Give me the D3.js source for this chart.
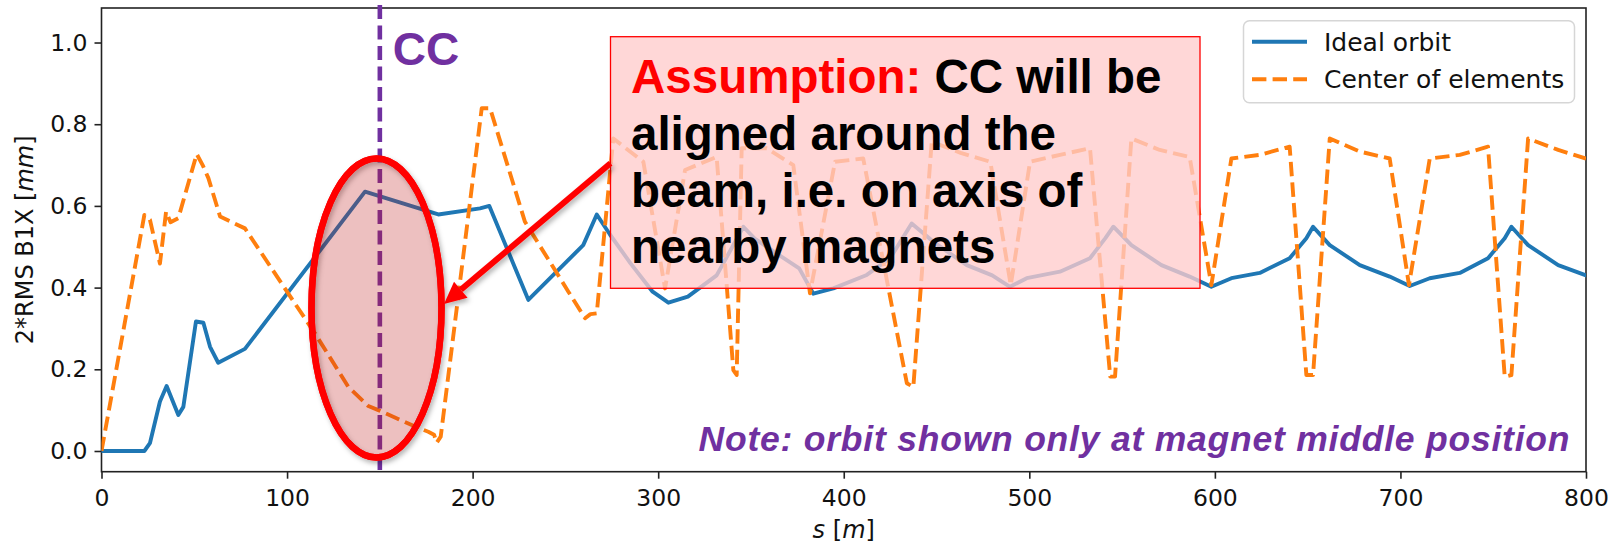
<!DOCTYPE html>
<html>
<head>
<meta charset="utf-8">
<script src="https://cdn.jsdelivr.net/npm/d3@7"></script>
<style>
  html, body { margin: 0; padding: 0; background: #fff; }
  svg { display: block; }
</style>
</head>
<body>
<svg id="chart" width="1623" height="544"></svg>
<script>
// Beam position along s: ideal orbit vs. centre of the elements
const orbitS = [0, 23.1, 26.1, 31.5, 35.1, 41.4, 44.1, 50.9, 54.9, 58.5, 62.9, 77.3, 142, 181.5, 204, 209,
  230, 259.6, 266.9, 274, 285, 297, 305.5, 316, 331.5, 340, 345.9, 352, 365, 376, 383.6, 394.4, 412.4, 425,
  436.6, 448.3, 466.3, 480, 489.6, 498.6, 516.5, 532.7, 541, 545.3, 555, 571.2, 586.4, 598.1, 608.9, 624.2,
  640.3, 649.3, 652.9, 661.9, 678.1, 694.2, 705, 715.8, 732, 747.2, 756.2, 759.8, 768.8, 785, 800];
const orbitV = [0, 0, 0.019, 0.121, 0.159, 0.088, 0.108, 0.317, 0.314, 0.255, 0.216, 0.250, 0.635, 0.579, 0.594, 0.600,
  0.370, 0.504, 0.579, 0.530, 0.460, 0.390, 0.363, 0.378, 0.430, 0.500, 0.549, 0.520, 0.480, 0.447, 0.385, 0.398, 0.431, 0.472,
  0.557, 0.512, 0.455, 0.430, 0.402, 0.423, 0.439, 0.472, 0.521, 0.549, 0.504, 0.455, 0.427, 0.402, 0.423, 0.436,
  0.472, 0.521, 0.549, 0.504, 0.455, 0.427, 0.404, 0.423, 0.436, 0.472, 0.521, 0.549, 0.504, 0.455, 0.430];

const centerS = [0, 23.1, 26.1, 31.5, 34.8, 37.2, 41.4, 51.3, 54.5, 57.6, 63.9, 77.3, 100, 115, 133, 143.8, 149.2,
  169, 176.1, 179.2, 180.6, 182.8, 204.9, 209.4, 228.2, 251.6, 260.6, 263.5, 266.9, 275.8, 292, 303.7, 314.5, 331.5,
  340.5, 342.3, 345, 358.5, 372.8, 381.8, 395.3, 410.5, 434, 437.5, 447.4, 463, 479, 490, 500.4, 516.5, 532.7,
  543.6, 546.2, 555, 570.3, 586.4, 598.1, 608.9, 624.2, 640.3, 649.3, 652.9, 661.9, 678.1, 694.2, 704.6, 715.8,
  732, 747.2, 756.2, 759.8, 768.8, 785, 800];
const centerV = [0.0, 0.578, 0.566, 0.459, 0.586, 0.560, 0.570, 0.727, 0.700, 0.668, 0.574, 0.545, 0.390, 0.288, 0.157, 0.110, 0.100,
  0.060, 0.047, 0.040, 0.020, 0.035, 0.839, 0.839, 0.561, 0.390, 0.325, 0.335, 0.337, 0.765, 0.708, 0.398, 0.688, 0.720,
  0.198, 0.186, 0.741, 0.741, 0.700, 0.386, 0.708, 0.716, 0.166, 0.157, 0.757, 0.730, 0.708, 0.406, 0.708, 0.725, 0.741,
  0.182, 0.182, 0.765, 0.737, 0.720, 0.406, 0.716, 0.725, 0.745, 0.186, 0.186, 0.765, 0.733, 0.716, 0.406, 0.716,
  0.725, 0.745, 0.182, 0.186, 0.765, 0.737, 0.716];

const xTicks = [0, 100, 200, 300, 400, 500, 600, 700, 800];
const yTicks = [0.0, 0.2, 0.4, 0.6, 0.8, 1.0];
const seriesNames = ["Ideal orbit", "Center of elements"];
const ccPosition = 150;

const svg = d3.select("#chart");
const W = 1623, H = 544;
const plot = { left: 101.5, right: 1586, top: 8, bottom: 471.7 };

const x = d3.scaleLinear().domain([0, 800]).range([plot.left, plot.right]);
const y = d3.scaleLinear().domain([-0.0507, 1.0845]).range([plot.bottom, plot.top]);

svg.append("rect").attr("width", W).attr("height", H).attr("fill", "#fff");

const defs = svg.append("defs");
defs.append("clipPath").attr("id", "plotClip")
  .append("rect").attr("x", plot.left).attr("y", plot.top)
  .attr("width", plot.right - plot.left).attr("height", plot.bottom - plot.top);
const shadow = defs.append("filter").attr("id", "shade")
  .attr("x", "-20%").attr("y", "-20%").attr("width", "140%").attr("height", "140%");
shadow.append("feDropShadow").attr("dx", 2).attr("dy", 3).attr("stdDeviation", 2.5)
  .attr("flood-color", "#000").attr("flood-opacity", 0.3);

const mplFont = "'DejaVu Sans', sans-serif";
const boldFont = "'Liberation Sans', Arial, sans-serif";
const purple = "#7030A0";

// Axes
const xAxis = d3.axisBottom(x).tickValues(xTicks).tickFormat(d3.format("d")).tickSizeOuter(0).tickSize(7).tickPadding(6);
const yAxis = d3.axisLeft(y).tickValues(yTicks).tickFormat(d3.format(".1f")).tickSizeOuter(0).tickSize(7).tickPadding(7);

const gx = svg.append("g").attr("transform", `translate(0,${plot.bottom})`).call(xAxis);
const gy = svg.append("g").attr("transform", `translate(${plot.left},0)`).call(yAxis);
[gx, gy].forEach(g => {
  g.select(".domain").remove();
  g.selectAll(".tick line").attr("stroke", "#222").attr("stroke-width", 1.6);
  g.selectAll(".tick text").attr("fill", "#111").style("font-family", mplFont).style("font-size", "23.5px");
});
gx.selectAll(".tick text").attr("dy", "0.9em");

// Frame
svg.append("rect").attr("x", plot.left).attr("y", plot.top)
  .attr("width", plot.right - plot.left).attr("height", plot.bottom - plot.top)
  .attr("fill", "none").attr("stroke", "#222").attr("stroke-width", 1.6);

// Axis titles
const xt = svg.append("text").attr("x", (plot.left + plot.right) / 2).attr("y", 538)
  .attr("text-anchor", "middle").style("font-family", mplFont).style("font-size", "24px").attr("fill", "#111");
xt.append("tspan").attr("font-style", "italic").text("s");
xt.append("tspan").text(" [");
xt.append("tspan").attr("font-style", "italic").text("m");
xt.append("tspan").text("]");

const yt = svg.append("text")
  .attr("transform", `translate(33,${(plot.top + plot.bottom) / 2}) rotate(-90)`)
  .attr("text-anchor", "middle").style("font-family", mplFont).style("font-size", "24px").attr("fill", "#111");
yt.append("tspan").text("2*RMS B1X [");
yt.append("tspan").attr("font-style", "italic").text("mm");
yt.append("tspan").text("]");

// Series
const line = d3.line().x(d => x(d[0])).y(d => y(d[1]));
const orbitData = d3.zip(orbitS, orbitV);
const centerData = d3.zip(centerS, centerV);
const lines = svg.append("g").attr("clip-path", "url(#plotClip)");
lines.append("path").datum(orbitData).attr("d", line)
  .attr("fill", "none").attr("stroke", "#1f77b4").attr("stroke-width", 3.9)
  .attr("stroke-linejoin", "round").attr("stroke-linecap", "square");
lines.append("path").datum(centerData).attr("d", line)
  .attr("fill", "none").attr("stroke", "#ff7f0e").attr("stroke-width", 3.9)
  .attr("stroke-dasharray", "14.4 6.2").attr("stroke-linejoin", "round");

// Legend
const lg = svg.append("g");
lg.append("rect").attr("x", 1243.5).attr("y", 20.7).attr("width", 331).attr("height", 82)
  .attr("rx", 6).attr("fill", "rgba(255,255,255,0.85)").attr("stroke", "#d6d6d6").attr("stroke-width", 1.5);
const legendRows = [
  { name: seriesNames[0], color: "#1f77b4", dash: null, y: 41.7 },
  { name: seriesNames[1], color: "#ff7f0e", dash: "14.4 6.2", y: 79.3 }
];
legendRows.forEach(r => {
  lg.append("line").attr("x1", 1252).attr("x2", 1307).attr("y1", r.y).attr("y2", r.y)
    .attr("stroke", r.color).attr("stroke-width", 3.9).attr("stroke-dasharray", r.dash);
  lg.append("text").attr("x", 1324).attr("y", r.y + 9).text(r.name)
    .style("font-family", mplFont).style("font-size", "25px").attr("fill", "#111");
});

// CC marker
const ccX = x(ccPosition);
svg.append("line").attr("x1", ccX).attr("x2", ccX).attr("y1", 5).attr("y2", 473)
  .attr("stroke", purple).attr("stroke-width", 4.6).attr("stroke-dasharray", "14 6.5");
svg.append("text").attr("x", ccX + 13).attr("y", 65).text("CC")
  .style("font-family", boldFont).style("font-weight", "bold").style("font-size", "46px").attr("fill", purple);

// Highlight ellipse round the CC location: shadowed outline, then translucent fill and stroke
const ell = { cx: 376.5, cy: 308, rx: 65, ry: 149.5 };
svg.append("ellipse").attr("cx", ell.cx).attr("cy", ell.cy).attr("rx", ell.rx).attr("ry", ell.ry)
  .attr("fill", "none").attr("stroke", "#ff0000").attr("stroke-width", 6.5)
  .attr("filter", "url(#shade)");
svg.append("ellipse").attr("cx", ell.cx).attr("cy", ell.cy).attr("rx", ell.rx).attr("ry", ell.ry)
  .attr("fill", "rgba(192,30,30,0.28)").attr("stroke", "#ff0000").attr("stroke-width", 6.5);

// Annotation box
const box = { x: 610.5, y: 36.7, w: 589.5, h: 251.6 };
svg.append("rect").attr("x", box.x).attr("y", box.y).attr("width", box.w).attr("height", box.h)
  .attr("fill", "rgba(255,204,204,0.78)").attr("stroke", "#ff0000").attr("stroke-width", 1.3);

const textLines = [
  [{ t: "Assumption:", c: "#ff0000" }, { t: " CC will be", c: "#000" }],
  [{ t: "aligned around the", c: "#000" }],
  [{ t: "beam, i.e. on axis of", c: "#000" }],
  [{ t: "nearby magnets", c: "#000" }]
];
const baselines = [93.3, 150, 206.7, 263.3];
textLines.forEach((parts, i) => {
  const t = svg.append("text").attr("x", 631).attr("y", baselines[i])
    .style("font-family", boldFont).style("font-weight", "bold").style("font-size", "47.5px");
  parts.forEach(p => t.append("tspan").attr("fill", p.c).text(p.t));
});

// Arrow from the box to the ellipse
const tail = [610.5, 163.3], tip = [444, 304];
const ang = Math.atan2(tip[1] - tail[1], tip[0] - tail[0]);
const headLen = 22, headHalf = 10.5;
const base = [tip[0] - headLen * Math.cos(ang), tip[1] - headLen * Math.sin(ang)];
const arrow = svg.append("g").attr("filter", "url(#shade)");
arrow.append("line").attr("x1", tail[0]).attr("y1", tail[1]).attr("x2", base[0]).attr("y2", base[1])
  .attr("stroke", "#ff0000").attr("stroke-width", 6);
arrow.append("path")
  .attr("d", d3.line()([
    tip,
    [base[0] + headHalf * Math.sin(ang), base[1] - headHalf * Math.cos(ang)],
    [base[0] - headHalf * Math.sin(ang), base[1] + headHalf * Math.cos(ang)]
  ]) + "Z")
  .attr("fill", "#ff0000");

// Note
svg.append("text").attr("x", 698.5).attr("y", 450.7)
  .attr("textLength", 871).attr("lengthAdjust", "spacing")
  .text("Note: orbit shown only at magnet middle position")
  .style("font-family", boldFont).style("font-weight", "bold").style("font-style", "italic")
  .style("font-size", "35.5px").attr("fill", purple);
</script>
</body>
</html>
